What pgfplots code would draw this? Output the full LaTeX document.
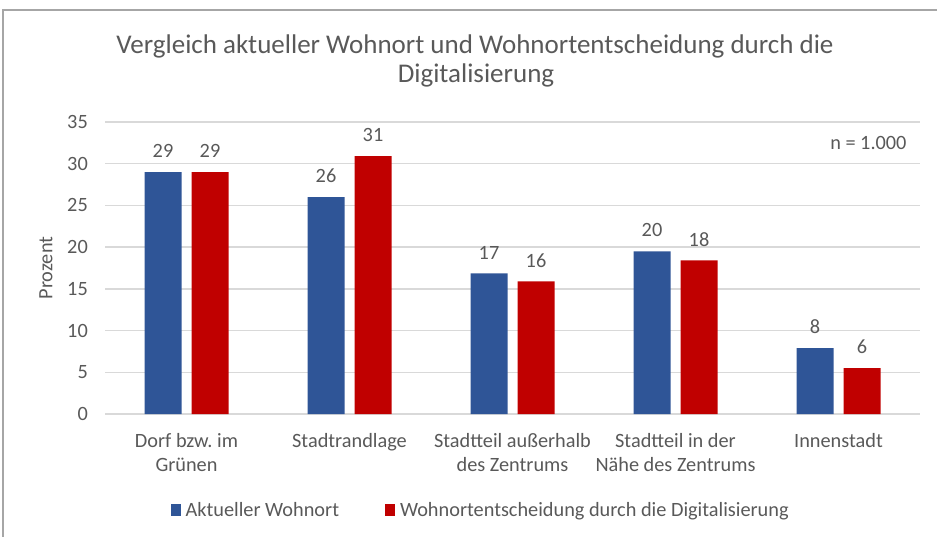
\documentclass[border=0pt]{standalone}
\usepackage{pgfplots}
\pgfplotsset{compat=1.18}
\usepackage{fontspec}
\setmainfont{Carlito}
\frenchspacing
\definecolor{cblue}{HTML}{2F5597}
\definecolor{cred}{HTML}{C00000}
\definecolor{ctext}{HTML}{595959}
\definecolor{cgrid}{HTML}{D9D9D9}
\definecolor{cframe}{HTML}{A6A6A6}
\begin{document}
\begin{tikzpicture}[x=1pt,y=1pt]
\useasboundingbox (0,0) rectangle (937,536);
\draw[cframe, line width=1.5pt] (3,-2) -- (3,526) -- (940,526);
\node[anchor=base, text=ctext, font=\fontsize{27}{30}\selectfont] at (475,482.7) {Vergleich aktueller Wohnort und Wohnortentscheidung durch die};
\node[anchor=base, text=ctext, font=\fontsize{27}{30}\selectfont] at (476,453) {Digitalisierung};
\begin{axis}[
  at={(105pt,122pt)}, anchor=south west,
  scale only axis, width=815pt, height=292pt,
  ybar=10pt, bar width=37pt,
  xmin=-0.5, xmax=4.5, ymin=0, ymax=35,
  xtick=data,
  xticklabels={{Dorf bzw. im\\Grünen},{Stadtrandlage},{Stadtteil außerhalb\\des Zentrums},{Stadtteil in der\\Nähe des Zentrums},{Innenstadt}},
  ytick={0,5,...,35},
  ymajorgrids, grid style={cgrid, line width=1.3pt},
  axis line style={draw=none},
  major tick length=0pt,
  /pgf/number format/assume math mode=true,
  tick label style={text=ctext, font=\fontsize{20.3}{24}\selectfont},
  xticklabel style={align=center, anchor=north, inner sep=0pt, yshift=-19.5pt},
  yticklabel style={anchor=east, inner sep=0pt, xshift=-17pt},
  ylabel={Prozent},
  ylabel style={at={(axis description cs:-0.0724,0.5)}, anchor=center, text=ctext, font=\fontsize{20.3}{24}\selectfont},
  nodes near coords,
  point meta=explicit symbolic,
  every node near coord/.append style={text=ctext, font=\fontsize{20.3}{24}\selectfont, anchor=south, inner sep=0pt, yshift=14pt},
  legend columns=2,
  legend image code/.code={\fill[#1] (0pt,-6pt) rectangle (10pt,6pt);},
  legend style={at={(axis description cs:0.461,-0.3288)}, anchor=center, draw=none, fill=none,
    font=\fontsize{20.3}{24}\selectfont, text=ctext,
    /tikz/every odd column/.append style={column sep=3pt},
    /tikz/every even column/.append style={column sep=44pt}},
]
\addplot[fill=cblue, draw=none] coordinates {(0,29) [29] (1,26) [26] (2,16.85) [17] (3,19.5) [20] (4,7.9) [8]};
\addplot[fill=cred, draw=none] coordinates {(0,29) [29] (1,30.9) [31] (2,15.9) [16] (3,18.4) [18] (4,5.5) [6]};
\legend{Aktueller Wohnort, Wohnortentscheidung durch die Digitalisierung}
\end{axis}
\node[anchor=base east, text=ctext, font=\fontsize{20.3}{24}\selectfont, inner sep=0pt] at (906.7,386) {n = 1.000};
\end{tikzpicture}
\end{document}
